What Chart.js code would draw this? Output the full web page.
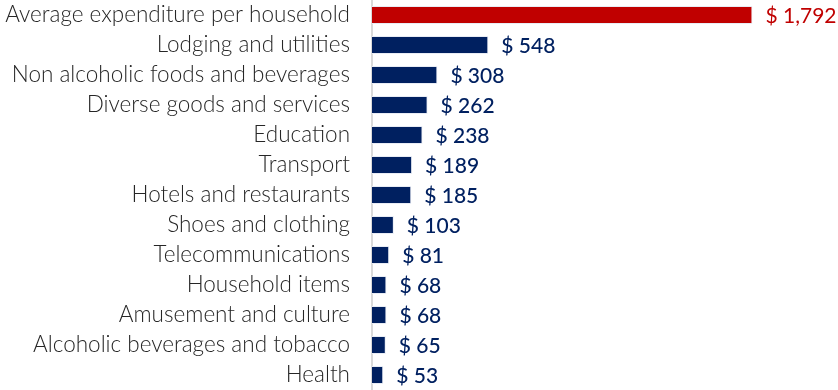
<!DOCTYPE html>
<html>
<head>
<meta charset="utf-8">
<script src="https://cdn.jsdelivr.net/npm/chart.js@4"></script>
<style>
  html, body { margin: 0; padding: 0; background: #fff; }
  #wrap { width: 838px; height: 390px; position: relative; }
</style>
</head>
<body>
<div id="wrap"><canvas id="barChart"></canvas></div>
<script>
// spending categories, top to bottom
const categories = [
  'Average expenditure per household',
  'Lodging and utilities',
  'Non alcoholic foods and beverages',
  'Diverse goods and services',
  'Education',
  'Transport',
  'Hotels and restaurants',
  'Shoes and clothing',
  'Telecommunications',
  'Household items',
  'Amusement and culture',
  'Alcoholic beverages and tobacco',
  'Health'
];
// monthly spend in dollars
const spending = [1792, 548, 308, 262, 238, 189, 185, 103, 81, 68, 68, 65, 53];

const NAVY = '#002060';
const RED = '#C00000';
const colors = spending.map((v, i) => i === 0 ? RED : NAVY);

// writes "$ value" just past the end of each bar
const valueLabels = {
  id: 'valueLabels',
  afterDatasetsDraw(chart) {
    const ctx = chart.ctx;
    const meta = chart.getDatasetMeta(0);
    ctx.save();
    ctx.textBaseline = 'middle';
    ctx.textAlign = 'left';
    meta.data.forEach((bar, i) => {
      ctx.fillStyle = colors[i];
      ctx.font = (i === 0 ? '400 ' : '500 ') + '21px Lato';
      ctx.fillText('$ ' + spending[i].toLocaleString('en-US'), bar.x + 13, bar.y + 1);
    });
    ctx.restore();
  }
};

const config = {
  type: 'bar',
  data: {
    labels: categories,
    datasets: [{
      data: spending,
      backgroundColor: colors,
      borderColor: '#e8ecf4',
      borderWidth: 1,
      barPercentage: 0.6,
      categoryPercentage: 1
    }]
  },
  options: {
    indexAxis: 'y',
    responsive: true,
    maintainAspectRatio: false,
    animation: false,
    layout: { padding: 0 },
    plugins: {
      legend: { display: false },
      tooltip: { enabled: false }
    },
    scales: {
      x: {
        display: false,
        min: 0,
        max: 2195
      },
      y: {
        grid: { display: false, drawTicks: false },
        border: { display: true, color: '#d9d9d9', width: 2 },
        ticks: {
          color: '#262626',
          padding: 22,
          font: { family: 'Lato', size: 22.5, weight: 300 }
        },
        afterFit(scale) {
          scale.width = 372;
          // let the bands use the full height
          scale.paddingTop = 0;
          scale.paddingBottom = 0;
        }
      }
    }
  },
  plugins: [valueLabels]
};

new Chart(document.getElementById('barChart'), config);
</script>
</body>
</html>
